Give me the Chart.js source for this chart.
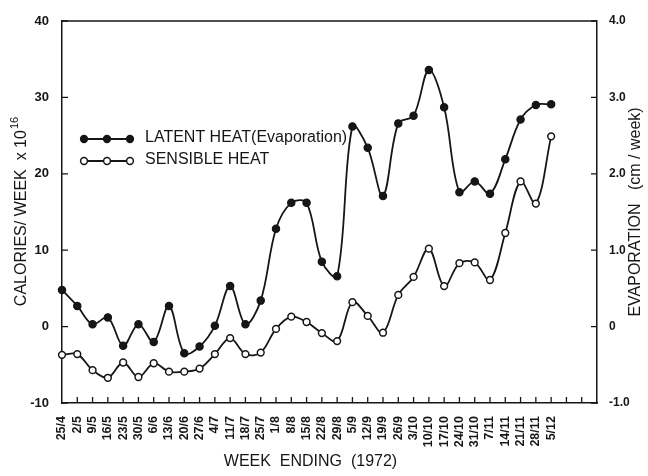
<!DOCTYPE html>
<html><head><meta charset="utf-8">
<script src="https://cdn.jsdelivr.net/npm/chart.js@4.4.1/dist/chart.umd.min.js"></script>
<style>html,body{margin:0;padding:0;background:#fff;}canvas{display:block;}</style>
</head><body>
<canvas id="c" width="648" height="476"></canvas>
<script>
const weekLabels = ['25/4','2/5','9/5','16/5','23/5','30/5','6/6','13/6','20/6','27/6','4/7','11/7','18/7','25/7','1/8','8/8','15/8','22/8','29/8','5/9','12/9','19/9','26/9','3/10','10/10','17/10','24/10','31/10','7/11','14/11','21/11','28/11','5/12'];
const extraWeeks = ['', '', ''];
const latentHeat = [4.8, 2.7, 0.3, 1.2, -2.5, 0.3, -2.0, 2.7, -3.5, -2.6, 0.1, 5.3, 0.3, 3.4, 12.8, 16.2, 16.2, 8.5, 6.6, 26.2, 23.4, 17.1, 26.6, 27.6, 33.6, 28.7, 17.6, 19.0, 17.4, 21.9, 27.1, 29.0, 29.1];
const sensibleHeat = [-3.7, -3.6, -5.7, -6.7, -4.7, -6.6, -4.8, -5.9, -5.9, -5.5, -3.6, -1.5, -3.6, -3.4, -0.3, 1.3, 0.6, -0.85, -1.9, 3.2, 1.4, -0.8, 4.15, 6.5, 10.2, 5.3, 8.3, 8.4, 6.1, 12.25, 19.0, 16.1, 24.9];
const caloriesRange = [-10, 40];
const evaporationRange = [-1, 4];
const seriesNames = ['LATENT HEAT(Evaporation)', 'SENSIBLE HEAT'];

const INK = '#161616';
const FONT = '"Liberation Sans", Arial, sans-serif';

const decor = {
  id: 'decor',
  afterDraw(chart) {
    const { ctx, chartArea: a, scales } = chart;
    ctx.save();
    ctx.strokeStyle = INK; ctx.fillStyle = INK;
    // top border
    ctx.lineWidth = 1.5;
    ctx.beginPath(); ctx.moveTo(a.left, a.top); ctx.lineTo(a.right, a.top); ctx.stroke();
    // inward tick marks
    ctx.lineWidth = 1.3;
    ctx.beginPath();
    const xs = scales.x;
    xs.ticks.forEach((t, i) => {
      const px = xs.getPixelForTick(i);
      if (i === 0 || i === xs.ticks.length - 1) return;
      ctx.moveTo(px, a.bottom); ctx.lineTo(px, a.bottom - 6);
    });
    scales.y.ticks.forEach((t, i) => {
      const py = scales.y.getPixelForTick(i);
      ctx.moveTo(a.left, py); ctx.lineTo(a.left + 6, py);
    });
    scales.y1.ticks.forEach((t, i) => {
      const py = scales.y1.getPixelForTick(i);
      ctx.moveTo(a.right, py); ctx.lineTo(a.right - 6, py);
    });
    ctx.stroke();

    // legend
    const lx = a.left + 22, ly = [a.top + 118, a.top + 140];
    chart.data.datasets.forEach((ds, k) => {
      const y = ly[k];
      ctx.lineWidth = 1.8; ctx.strokeStyle = INK;
      ctx.beginPath(); ctx.moveTo(lx, y); ctx.lineTo(lx + 46, y); ctx.stroke();
      [0, 23, 46].forEach(dx => {
        ctx.beginPath(); ctx.arc(lx + dx, y, 3.4, 0, Math.PI * 2);
        ctx.fillStyle = ds.pointBackgroundColor; ctx.fill();
        ctx.lineWidth = 1.5; ctx.stroke();
      });
      ctx.fillStyle = INK;
      ctx.font = '16px ' + FONT;
      ctx.textBaseline = 'middle'; ctx.textAlign = 'left';
      ctx.fillText(ds.label, lx + 61, y - 1);
    });

    // x title
    ctx.font = '16px ' + FONT;
    ctx.textAlign = 'center'; ctx.textBaseline = 'middle';
    ctx.fillText('WEEK  ENDING  (1972)', (a.left + a.right) / 2 - 19, 462);

    // left title with superscript
    const cy = (a.top + a.bottom) / 2;
    ctx.save();
    ctx.translate(22, cy);
    ctx.rotate(-Math.PI / 2);
    const main = 'CALORIES/ WEEK  x 10';
    ctx.font = '16px ' + FONT;
    const wMain = ctx.measureText(main).width;
    ctx.font = '11px ' + FONT;
    const wSup = ctx.measureText('16').width;
    const start = -(wMain + wSup) / 2;
    ctx.textAlign = 'left';
    ctx.font = '16px ' + FONT;
    ctx.fillText(main, start, 0);
    ctx.font = '11px ' + FONT;
    ctx.fillText('16', start + wMain + 1, -7);
    ctx.restore();

    // right title
    ctx.save();
    ctx.translate(636, cy);
    ctx.rotate(-Math.PI / 2);
    ctx.font = '16px ' + FONT;
    ctx.textAlign = 'center';
    ctx.fillText('EVAPORATION   (cm / week)', 0, 0);
    ctx.restore();
    ctx.restore();
  }
};

new Chart(document.getElementById('c'), {
  type: 'line',
  data: {
    labels: weekLabels.concat(extraWeeks),
    datasets: [
      {
        label: seriesNames[0], data: latentHeat, yAxisID: 'y',
        borderColor: INK, borderWidth: 1.8, tension: 0.35,
        pointRadius: 3.6, pointBackgroundColor: INK, pointBorderColor: INK, pointBorderWidth: 1.3
      },
      {
        label: seriesNames[1], data: sensibleHeat, yAxisID: 'y',
        borderColor: INK, borderWidth: 1.8, tension: 0.35,
        pointRadius: 3.4, pointBackgroundColor: '#ffffff', pointBorderColor: INK, pointBorderWidth: 1.5
      }
    ]
  },
  options: {
    responsive: false, animation: false, devicePixelRatio: 1,
    layout: { padding: { top: 21, left: 0, right: 0, bottom: 0 } },
    plugins: { legend: { display: false }, tooltip: { enabled: false } },
    scales: {
      x: {
        type: 'category', offset: false,
        grid: { display: false },
        border: { display: true, color: INK, width: 1.5 },
        ticks: { autoSkip: false, minRotation: 90, maxRotation: 90, padding: 5, color: INK,
                 font: { family: FONT, size: 12.5, weight: 'bold' } },
        afterFit(s) { s.height = 73; }
      },
      y: {
        position: 'left', min: caloriesRange[0], max: caloriesRange[1],
        grid: { display: false },
        border: { display: true, color: INK, width: 1.5 },
        ticks: { stepSize: 10, padding: 5, color: INK, font: { family: FONT, size: 13, weight: 'bold' } },
        afterFit(s) { s.width = 62; }
      },
      y1: {
        position: 'right', min: evaporationRange[0], max: evaporationRange[1],
        grid: { display: false },
        border: { display: true, color: INK, width: 1.5 },
        ticks: { stepSize: 1, padding: 4, color: INK, font: { family: FONT, size: 12, weight: 'bold' },
                 callback: v => v === 0 ? '0' : v.toFixed(1) },
        afterFit(s) { s.width = 51; }
      }
    }
  },
  plugins: [decor]
});
</script>
</body></html>
